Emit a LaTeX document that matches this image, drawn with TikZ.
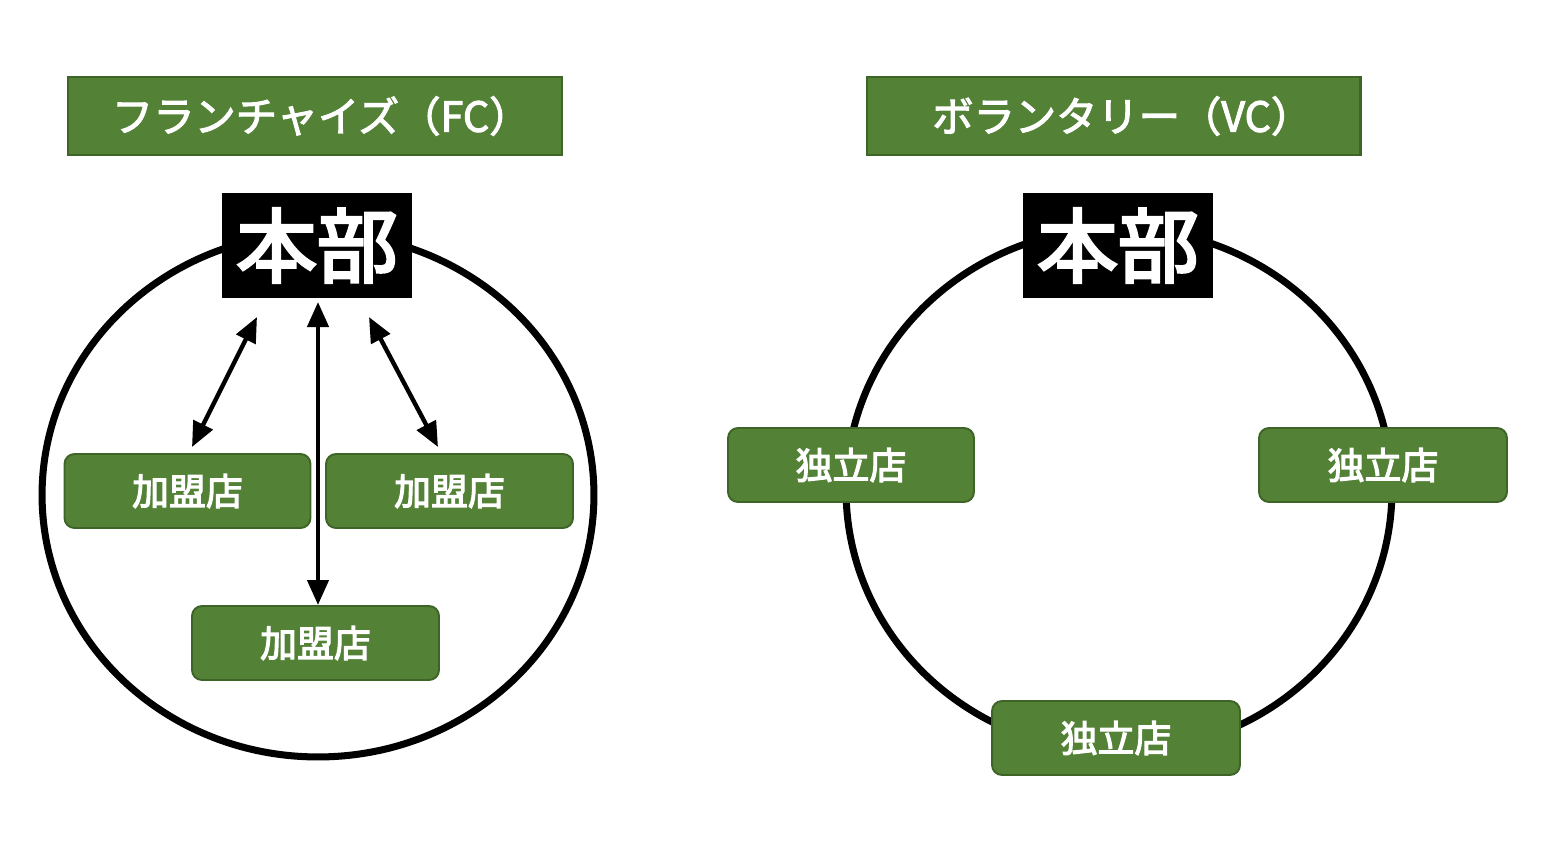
\documentclass[tikz,border=0pt]{standalone}
\usepackage{fontspec}
\newfontfamily\jpt[FakeBold=2.6]{Noto Sans CJK JP}
\newfontfamily\jpm[FakeBold=3.2]{Noto Sans CJK JP}
\newfontfamily\jph[FakeBold=3.5]{Noto Sans CJK JP}
\usetikzlibrary{arrows.meta}
\definecolor{boxgreen}{HTML}{538135}
\definecolor{boxedge}{HTML}{3E6428}
\tikzset{
  titlebox/.style={draw=boxedge, line width=1.2pt, fill=boxgreen, text=white,
    minimum width=9.88cm, minimum height=1.56cm, inner sep=0pt,
    font=\jpt\fontsize{23.5}{25}\selectfont},
  honbu/.style={fill=black, text=white, minimum width=3.8cm, minimum height=2.1cm,
    inner sep=0pt, font=\jph\fontsize{46}{48}\selectfont},
  shop/.style={draw=boxedge, line width=1.1pt, fill=boxgreen, text=white,
    rounded corners=0.2cm, minimum width=4.92cm, minimum height=1.48cm, inner sep=0pt,
    font=\jpm\fontsize{21}{23}\selectfont},
  ring/.style={draw=black, line width=4pt},
  link/.style={line width=2.5pt, {Triangle[length=0.5cm,width=0.42cm]}-{Triangle[length=0.5cm,width=0.42cm]}}
}
\begin{document}
\begin{tikzpicture}[x=0.02cm, y=-0.02cm]
\useasboundingbox (0,0) rectangle (1566,856);
% rings
\draw[ring] (318,495) ellipse [x radius=5.52cm, y radius=5.24cm];
\draw[ring] (1119,490) ellipse [x radius=5.46cm, y radius=5.24cm];
% titles
\node[titlebox] (t1) at (315,116) {\hspace{0.25cm}フランチャイズ（FC）};
\node[titlebox] (t2) at (1113.5,116) {\hspace{0.35cm}ボランタリー（VC）};
% headquarters
\node[honbu] (h1) at (317,245.5) {本部};
\node[honbu] (h2) at (1118,245.5) {本部};
% franchise shops
\node[shop] (k1) at (187.5,491) {加盟店};
\node[shop, minimum width=4.94cm] (k2) at (449.5,491) {加盟店};
\node[shop, minimum width=4.94cm] (k3) at (315.5,643) {加盟店};
% independent shops
\node[shop] (d1) at (851,465) {独立店};
\node[shop, minimum width=4.96cm] (d2) at (1383,465) {独立店};
\node[shop, minimum width=4.96cm] (d3) at (1116,738) {独立店};
% arrows
\coordinate (a1s) at (257,317);
\coordinate (a1e) at (192,447);
\coordinate (a2s) at (318,302);
\coordinate (a2e) at (318,605);
\coordinate (a3s) at (369,317);
\coordinate (a3e) at (438,447);
\draw[link] (a1s) -- (a1e);
\draw[link] (a2s) -- (a2e);
\draw[link] (a3s) -- (a3e);
\end{tikzpicture}
\end{document}
